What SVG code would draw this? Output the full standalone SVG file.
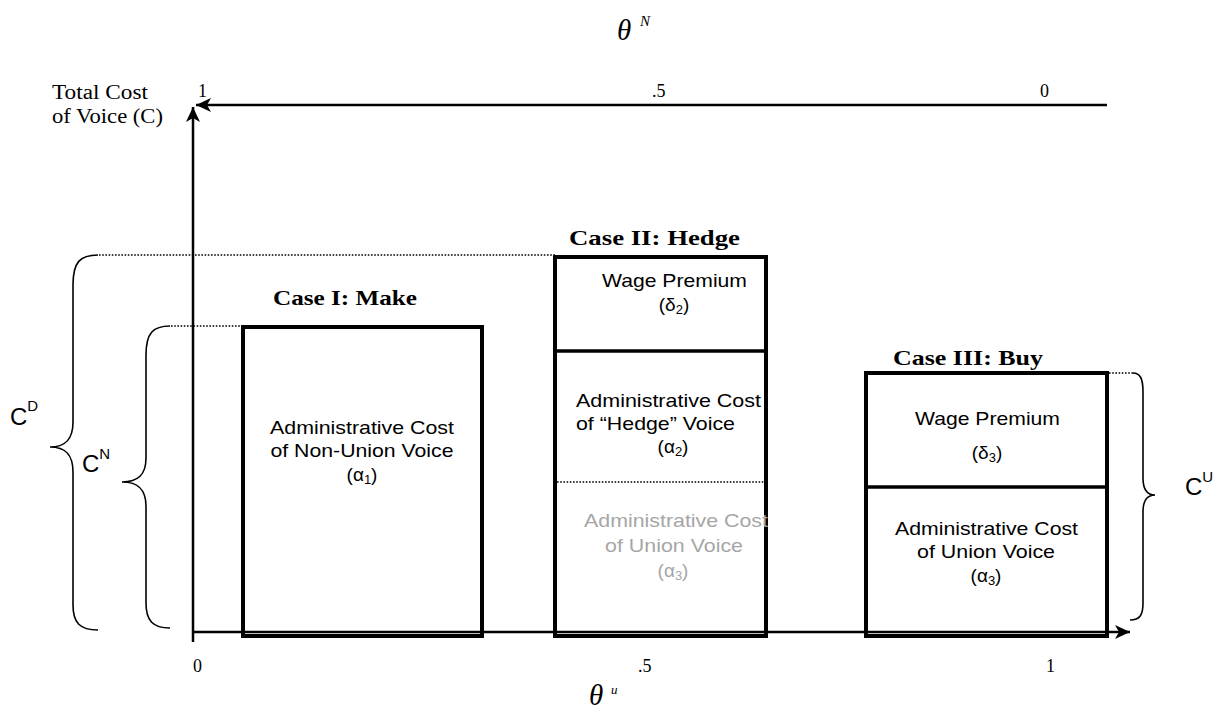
<svg xmlns="http://www.w3.org/2000/svg" width="1226" height="711" viewBox="0 0 1226 711">
<style>
.ser{font-family:"Liberation Serif",serif;fill:#000}
.num{font-family:"Liberation Serif",serif;font-size:18px;fill:#000}
.case{font-family:"Liberation Serif",serif;font-size:22px;font-weight:bold;fill:#000}
.sans{font-family:"Liberation Sans",Arial,sans-serif;font-size:19px;fill:#000}
.grey{fill:#a6a6a6}
.big{font-family:"Liberation Sans",Arial,sans-serif;font-size:24px;fill:#000}
.box{fill:none;stroke:#000;stroke-width:4}
.div{stroke:#000;stroke-width:3.5}
.axis{stroke:#000;stroke-width:2.5;fill:none}
.dot{stroke:#000;stroke-width:1.3;stroke-dasharray:1.6 1.6;fill:none}
.brace{stroke:#000;stroke-width:1.6;fill:none}
</style>
<defs>
<marker id="arr" markerUnits="userSpaceOnUse" markerWidth="16" markerHeight="14" refX="15" refY="7" orient="auto">
<path d="M0,0 L15,7 L0,14 L4,7 z" fill="#000"/>
</marker>
</defs>

<g id="axes">
<line class="axis" x1="1107" y1="105" x2="196" y2="105" marker-end="url(#arr)"/>
<line class="axis" x1="193" y1="642" x2="193" y2="107" marker-end="url(#arr)"/>
<line class="axis" x1="193" y1="632" x2="1130" y2="632" marker-end="url(#arr)"/>
</g>

<g id="axis-labels">
<text class="ser" x="617" y="40" font-size="29" font-style="italic">θ</text>
<text class="ser" x="640" y="26" font-size="15" font-style="italic">N</text>
<text class="ser" x="52" y="99" font-size="20" textLength="96" lengthAdjust="spacingAndGlyphs">Total Cost</text>
<text class="ser" x="52" y="123" font-size="20" textLength="111" lengthAdjust="spacingAndGlyphs">of Voice (C)</text>
<text class="num" x="198" y="97">1</text>
<text class="num" x="652" y="97">.5</text>
<text class="num" x="1040" y="97">0</text>
<text class="num" x="193" y="672">0</text>
<text class="num" x="638" y="672">.5</text>
<text class="num" x="1046" y="672">1</text>
<text class="ser" x="589" y="705" font-size="29" font-style="italic">θ</text>
<text class="ser" x="611" y="694" font-size="13" font-style="italic">u</text>
</g>

<g id="connectors">
<line class="dot" x1="99" y1="255" x2="555" y2="255"/>
<line class="dot" x1="171" y1="326" x2="242" y2="326"/>
<line class="dot" x1="1109" y1="373" x2="1133" y2="373"/>
<path class="brace" d="M98,255 C80,255 73,262 73,285 L73,422 C73,440 65,447 50,447 C65,447 73,454 73,472 L73,605 C73,623 80,630 98,630"/>
<path class="brace" d="M170,326 C153,326 146,333 146,355 L146,458 C146,475 138,482 122,482 C138,482 146,489 146,506 L146,603 C146,621 153,628 170,628"/>
<path class="brace" d="M1133,373 C1140,373 1143,378 1143,392 L1143,478 C1143,490 1147,495 1155,495 C1147,495 1143,500 1143,512 L1143,603 C1143,615 1140,620 1130,620"/>
<text class="big" x="10" y="425">C<tspan font-size="15" dy="-14">D</tspan></text>
<text class="big" x="82" y="472">C<tspan font-size="15" dy="-13">N</tspan></text>
<text class="big" x="1185" y="495">C<tspan font-size="15" dy="-13">U</tspan></text>
</g>

<g id="case1">
<rect class="box" x="243" y="327" width="239" height="309"/>
<text class="case" x="273" y="305" textLength="144" lengthAdjust="spacingAndGlyphs">Case I: Make</text>
<text class="sans" x="362" y="434" text-anchor="middle" textLength="184" lengthAdjust="spacingAndGlyphs">Administrative Cost</text>
<text class="sans" x="362" y="457" text-anchor="middle" textLength="183" lengthAdjust="spacingAndGlyphs">of Non-Union Voice</text>
<text class="sans" x="362" y="481" text-anchor="middle">(α<tspan font-size="13" dy="3">1</tspan><tspan dy="-3">)</tspan></text>
</g>

<g id="case2">
<rect class="box" x="555" y="257" width="211" height="379"/>
<line class="div" x1="555" y1="351" x2="766" y2="351"/>
<line class="dot" x1="557" y1="482" x2="764" y2="482"/>
<text class="case" x="569" y="245" textLength="171" lengthAdjust="spacingAndGlyphs">Case II: Hedge</text>
<text class="sans" x="674.5" y="287" text-anchor="middle" textLength="145" lengthAdjust="spacingAndGlyphs">Wage Premium</text>
<text class="sans" x="674" y="311" text-anchor="middle">(δ<tspan font-size="13" dy="3">2</tspan><tspan dy="-3">)</tspan></text>
<text class="sans" x="576" y="407" textLength="185" lengthAdjust="spacingAndGlyphs">Administrative Cost</text>
<text class="sans" x="576" y="430" textLength="159" lengthAdjust="spacingAndGlyphs">of “Hedge” Voice</text>
<text class="sans" x="673" y="453" text-anchor="middle">(α<tspan font-size="13" dy="3">2</tspan><tspan dy="-3">)</tspan></text>
<text class="sans grey" x="676" y="527" text-anchor="middle" textLength="184" lengthAdjust="spacingAndGlyphs">Administrative Cost</text>
<text class="sans grey" x="674" y="552" text-anchor="middle" textLength="138" lengthAdjust="spacingAndGlyphs">of Union Voice</text>
<text class="sans grey" x="673" y="577" text-anchor="middle">(α<tspan font-size="13" dy="3">3</tspan><tspan dy="-3">)</tspan></text>
</g>

<g id="case3">
<rect class="box" x="866" y="373" width="241" height="263"/>
<line class="div" x1="866" y1="487" x2="1107" y2="487"/>
<text class="case" x="893" y="365" textLength="150" lengthAdjust="spacingAndGlyphs">Case III: Buy</text>
<text class="sans" x="987.5" y="425" text-anchor="middle" textLength="145" lengthAdjust="spacingAndGlyphs">Wage Premium</text>
<text class="sans" x="987" y="459" text-anchor="middle">(δ<tspan font-size="13" dy="3">3</tspan><tspan dy="-3">)</tspan></text>
<text class="sans" x="986.5" y="535" text-anchor="middle" textLength="183" lengthAdjust="spacingAndGlyphs">Administrative Cost</text>
<text class="sans" x="986" y="558" text-anchor="middle" textLength="138" lengthAdjust="spacingAndGlyphs">of Union Voice</text>
<text class="sans" x="986" y="582" text-anchor="middle">(α<tspan font-size="13" dy="3">3</tspan><tspan dy="-3">)</tspan></text>
</g>
</svg>
